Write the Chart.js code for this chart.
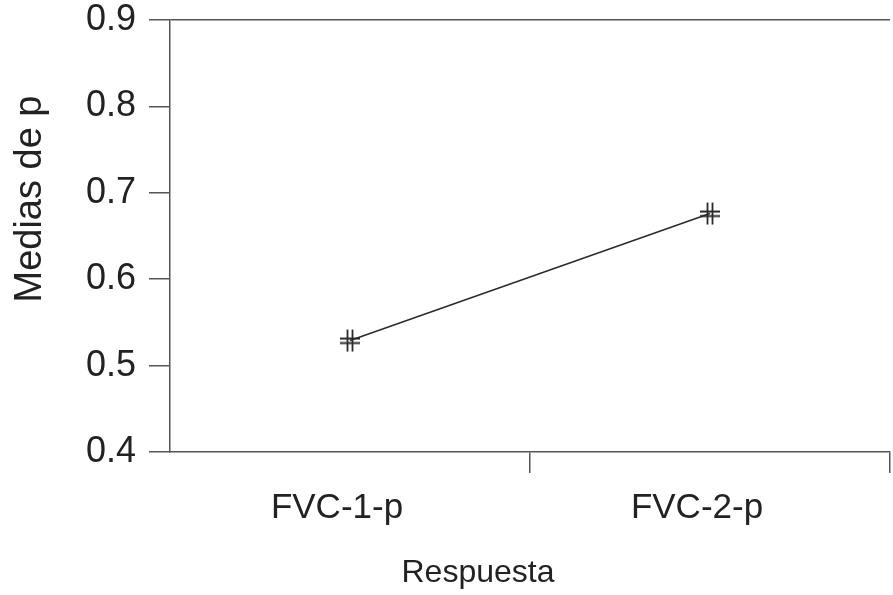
<!DOCTYPE html>
<html>
<head>
<meta charset="utf-8">
<script src="https://cdn.jsdelivr.net/npm/chart.js@4"></script>
<style>
  body { margin: 0; background: #fff; }
  #wrap { width: 893px; height: 595px; }
</style>
</head>
<body>
<div id="wrap"><canvas id="mediasChart"></canvas></div>
<script>
// Data
const categories = ["FVC-1-p", "FVC-2-p"];
const medias = [0.529, 0.676];
const yMin = 0.4;
const yMax = 0.9;

const ink = "#555";
const textInk = "#222";
const fam = "'Liberation Sans', Arial, sans-serif";

// "#" shaped marker
function hashMarker() {
    const c = document.createElement("canvas");
    c.width = 24; c.height = 24;
    const g = c.getContext("2d");
    g.strokeStyle = "#2a2a2a";
    g.lineWidth = 1.8;
    g.beginPath();
    g.moveTo(9.5, 1); g.lineTo(9.5, 23);
    g.moveTo(14.5, 1); g.lineTo(14.5, 23);
    g.moveTo(2, 10); g.lineTo(22, 10);
    g.moveTo(2, 14.5); g.lineTo(22, 14.5);
    g.stroke();
    return c;
}

// axis titles sit a bit off-centre in the original
const axisTitles = {
    id: "axisTitles",
    afterDraw(chart) {
        const { ctx, chartArea } = chart;
        ctx.save();
        ctx.fillStyle = textInk;
        ctx.textAlign = "center";
        ctx.textBaseline = "alphabetic";
        ctx.font = "32px " + fam;
        ctx.fillText("Respuesta", (chartArea.left + chartArea.right) / 2 - 52, 582);
        ctx.translate(41, (chartArea.top + chartArea.bottom) / 2 - 37);
        ctx.rotate(-Math.PI / 2);
        ctx.font = "38px " + fam;
        ctx.fillText("Medias de p", 0, 0);
        ctx.restore();
    }
};

const ctx = document.getElementById("mediasChart").getContext("2d");

new Chart(ctx, {
    type: "line",
    data: {
        labels: categories,
        datasets: [
            {
                label: "Medias de p",
                data: medias,
                borderColor: "#2a2a2a",
                borderWidth: 1.5,
                pointStyle: hashMarker(),
                pointRadius: 12,
                tension: 0
            }
        ]
    },
    plugins: [axisTitles],
    options: {
        responsive: true,
        maintainAspectRatio: false,
        animation: false,
        layout: { autoPadding: false, padding: { top: 20, right: 3 } },
        plugins: {
            legend: { display: false },
            tooltip: { enabled: false }
        },
        scales: {
            x: {
                offset: true,
                afterFit: s => { s.height = 143; s.paddingLeft = 0; s.paddingRight = 0; },
                border: { color: ink, width: 1.5 },
                grid: {
                    offset: true,
                    tickLength: 21,
                    lineWidth: 1.5,
                    color: c => c.index === 2 ? "#bbb" : "transparent",
                    tickColor: c => c.index === 0 ? "transparent" : ink
                },
                ticks: {
                    color: textInk,
                    font: { family: fam, size: 35 },
                    padding: 14,
                    labelOffset: -13,
                    maxRotation: 0
                }
            },
            y: {
                min: yMin,
                max: yMax,
                afterFit: s => { s.width = 170; s.paddingTop = 0; s.paddingBottom = 0; },
                border: { color: ink, width: 1.5 },
                grid: {
                    tickLength: 21,
                    lineWidth: 1.5,
                    color: c => c.tick && Math.abs(c.tick.value - yMax) < 1e-6 ? ink : "transparent",
                    tickColor: ink,
                    tickBorderDash: c => c.tick && Math.round(c.tick.value * 100) % 10 !== 0 ? [10, 100] : []
                },
                ticks: {
                    stepSize: 0.05,
                    color: textInk,
                    font: { family: fam, size: 36 },
                    padding: 13,
                    callback: v => Math.round(v * 100) % 10 === 0 ? v.toFixed(1) : ""
                }
            }
        }
    }
});
</script>
</body>
</html>
